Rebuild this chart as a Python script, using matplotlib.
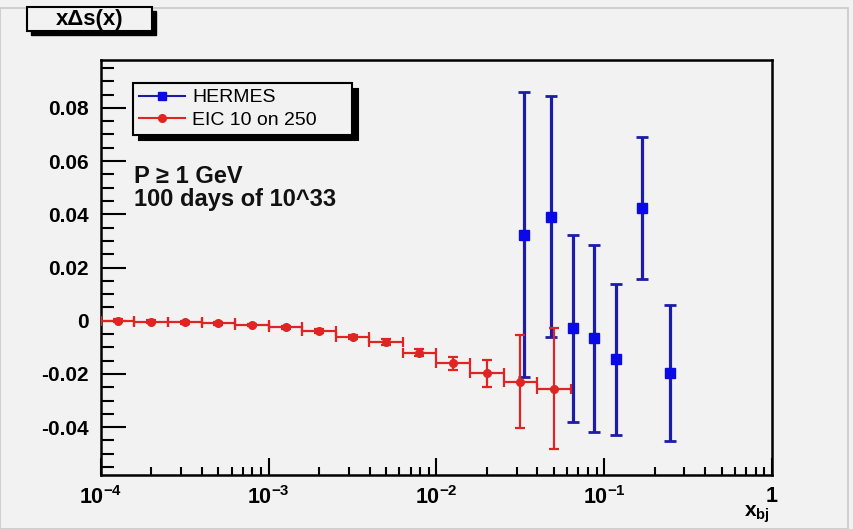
import numpy as np
import matplotlib
matplotlib.use("Agg")
import matplotlib.pyplot as plt
from matplotlib.patches import Rectangle
from matplotlib.lines import Line2D
from matplotlib.ticker import LogLocator, MultipleLocator, NullFormatter, FixedFormatter, FixedLocator

# ---------------- data ----------------
# EIC 10 on 250 (red): bin centres, bin edges, values, errors
eic_x = [1.26e-4, 2.0e-4, 3.16e-4, 5.0e-4, 7.9e-4, 1.26e-3, 2.0e-3,
         3.16e-3, 5.0e-3, 7.9e-3, 1.26e-2, 2.0e-2, 3.16e-2, 5.0e-2]
eic_lo = [1.0e-4, 1.58e-4, 2.51e-4, 3.98e-4, 6.31e-4, 1.0e-3, 1.58e-3,
          2.51e-3, 3.98e-3, 6.31e-3, 1.0e-2, 1.58e-2, 2.51e-2, 3.98e-2]
eic_hi = [1.58e-4, 2.51e-4, 3.98e-4, 6.31e-4, 1.0e-3, 1.58e-3, 2.51e-3,
          3.98e-3, 6.31e-3, 1.0e-2, 1.58e-2, 2.51e-2, 3.98e-2, 6.31e-2]
eic_y = [0.0, -0.0004, -0.0006, -0.001, -0.0016, -0.0025, -0.004,
         -0.006, -0.008, -0.012, -0.016, -0.0198, -0.023, -0.0255]
eic_err = [0.0005, 0.0005, 0.0005, 0.0005, 0.0005, 0.0006, 0.0007,
           0.0008, 0.001, 0.0012, 0.0025, 0.005, 0.0175, 0.0227]

# HERMES (blue)
hermes_x = [0.0332, 0.0482, 0.0652, 0.0871, 0.118, 0.169, 0.245]
hermes_y = [0.0323, 0.039, -0.0029, -0.0066, -0.0145, 0.0424, -0.0197]
hermes_err = [0.0536, 0.0453, 0.0352, 0.0351, 0.0283, 0.0267, 0.0255]

xtick_vals = [1e-4, 1e-3, 1e-2, 1e-1, 1]
xtick_text = [r'$\mathregular{10^{-4}}$', r'$\mathregular{10^{-3}}$',
              r'$\mathregular{10^{-2}}$', r'$\mathregular{10^{-1}}$', '1']
ytick_vals = [-0.04, -0.02, 0, 0.02, 0.04, 0.06, 0.08]
ytick_text = ['-0.04', '-0.02', '0', '0.02', '0.04', '0.06', '0.08']

plt.rcParams['font.family'] = ['Liberation Sans', 'DejaVu Sans']
plt.rcParams['font.weight'] = 'bold'
plt.rcParams['mathtext.default'] = 'bf'

W, H = 854, 529
fig = plt.figure(figsize=(W / 100, H / 100), dpi=100, facecolor='#f2f2f2')

# canvas frame lines (right / bottom)
fig.add_artist(Rectangle((0.0, 0.0), 848 / W, 1 - 8 / H, transform=fig.transFigure,
                         facecolor='none', edgecolor='#c8c8c8', lw=1.2))

ax = fig.add_axes([101 / W, 1 - 475 / H, (772 - 101) / W, (475 - 60) / H])
ax.set_facecolor('#f2f2f2')

blue = '#1c1ca8'
blue_m = '#0a0ae6'
red = '#e02424'

eic_x = np.array(eic_x)
xerr = [eic_x - np.array(eic_lo), np.array(eic_hi) - eic_x]
ax.errorbar(eic_x, eic_y, yerr=eic_err, xerr=xerr, fmt='o', color=red,
            ecolor=red, ms=5.5, elinewidth=1.6, capsize=3.5, capthick=1.6, zorder=3)
ax.errorbar(hermes_x, hermes_y, yerr=hermes_err, fmt='s', color=blue_m,
            ecolor=blue, ms=7, elinewidth=2.3, capsize=4, capthick=2, zorder=2)

ax.set_xscale('log')
ax.set_xlim(1e-4, 1)
ax.set_ylim(-0.058, 0.098)

ax.xaxis.set_major_locator(FixedLocator(xtick_vals))
ax.xaxis.set_major_formatter(FixedFormatter(xtick_text))
ax.xaxis.set_minor_locator(LogLocator(base=10, subs=np.arange(2, 10), numticks=20))
ax.xaxis.set_minor_formatter(NullFormatter())
ax.yaxis.set_major_locator(FixedLocator(ytick_vals))
ax.yaxis.set_major_formatter(FixedFormatter(ytick_text))
ax.yaxis.set_minor_locator(MultipleLocator(0.005))

ax.tick_params(axis='y', which='major', direction='in', length=18, width=1.5,
               labelsize=15, pad=9, right=False)
ax.tick_params(axis='y', which='minor', direction='in', length=9, width=1.5, right=False)
ax.tick_params(axis='x', which='major', direction='in', length=12, width=1.5,
               labelsize=15.5, pad=8, top=False)
ax.tick_params(axis='x', which='minor', direction='in', length=6, width=1.5, top=False)
for lab in ax.get_yticklabels() + ax.get_xticklabels():
    lab.set_fontweight('bold')
for s in ax.spines.values():
    s.set_linewidth(1.8)

# legend with black shadow, ROOT-like "line + marker" entries
handles = [Line2D([], [], color=blue, marker='s', mfc=blue_m, mec=blue_m, ms=6, lw=1.5),
           Line2D([], [], color=red, marker='o', mfc=red, mec=red, ms=5.5, lw=1.5)]
labels = ['HERMES', 'EIC 10 on 250']
leg = ax.legend(handles, labels, loc='upper left', mode='expand',
                bbox_to_anchor=(32 / 671, 1 - 77 / 415, 219 / 671, 54 / 415),
                frameon=True, fancybox=False,
                edgecolor='black', facecolor='#f2f2f2', framealpha=1, fontsize=14,
                handlelength=2.4, handletextpad=0.35, borderpad=0.3, labelspacing=0.25,
                borderaxespad=0,
                shadow={'color': 'black', 'alpha': 1, 'ox': 4, 'oy': -4})
leg.get_frame().set_linewidth(1.5)
for t in leg.get_texts():
    t.set_fontweight('normal')

ax.text(33 / 671, 1 - 105 / 415, 'P ≥ 1 GeV\n100 days of 10^33', transform=ax.transAxes,
        fontsize=17, fontweight='bold', va='top', ha='left', linespacing=1.0,
        color='#111111')

# title box with shadow
fig.add_artist(Rectangle((31 / W, 1 - 35 / H), 125 / W, 24 / H, transform=fig.transFigure,
                         facecolor='black', edgecolor='black'))
fig.add_artist(Rectangle((27 / W, 1 - 31 / H), 125 / W, 24 / H, transform=fig.transFigure,
                         facecolor='#f2f2f2', edgecolor='black', lw=1.5))
fig.text(89.5 / W, 1 - 20 / H, 'xΔs(x)', ha='center', va='center', fontsize=16,
         fontweight='bold')

fig.text(757 / W, 1 - 514 / H, r'$\mathregular{x_{bj}}$', ha='center', va='center',
         fontsize=15, fontweight='bold')

fig.savefig('out.png', dpi=100, facecolor=fig.get_facecolor())
